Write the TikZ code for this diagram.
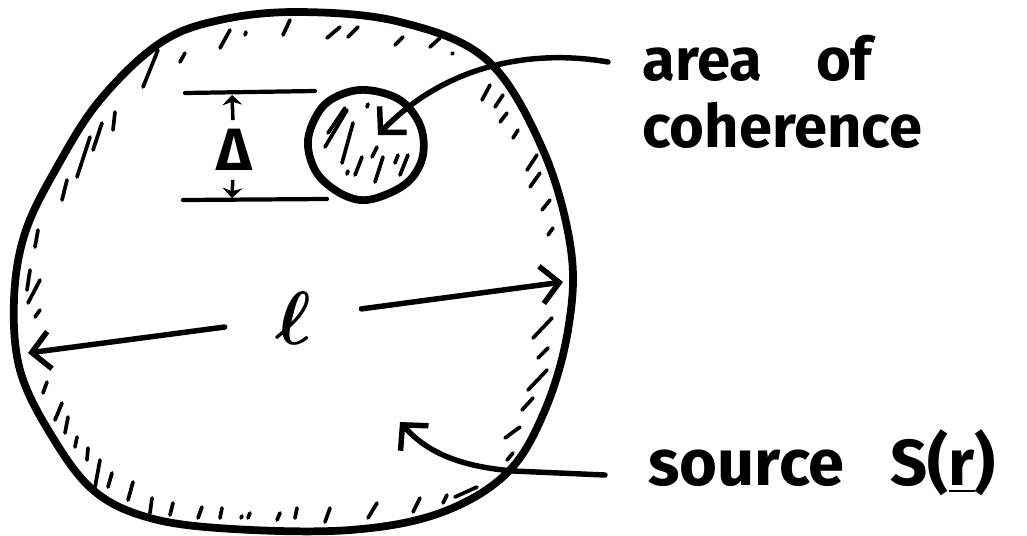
\documentclass[tikz,border=0pt]{standalone}
\usepackage{amsmath, bm}
\usepackage{graphicx}
\usepackage{fontspec}
\setmainfont{Fira Sans}
\usetikzlibrary{arrows.meta}

\begin{document}
\begin{tikzpicture}[x=0.02cm, y=-0.02cm,
    blob/.style={line width=4.4pt, line join=round},
    hatch/.style={line width=2.1pt, line cap=round},
    arr/.style={line width=3.1pt, line cap=round,
        -{Straight Barb[length=3.6mm, width=7.5mm, line width=3.1pt]}},
    smallarr/.style={line width=2pt,
        -{Stealth[length=2mm, width=4mm]}},
    ellnode/.style={minimum width=2.72cm, inner sep=0pt},
    lbl/.style={anchor=base west, inner sep=0pt, font=\bfseries\fontsize{34}{40}\selectfont}
]
    \useasboundingbox (0,0) rectangle (1027,535);

    % source outline
    \draw[blob] plot[smooth cycle, tension=0.6] coordinates {
        (300,12) (400,22) (487,60) (543,150) (571,250) (568,330) (545,410)
        (507,473) (440,513) (350,530) (233,529) (150,518) (93,490) (50,433)
        (20,370) (14,300) (25,233) (57,167) (100,100) (160,43) (220,20)};

    % hatching along the rim
    \foreach \xa/\ya/\xb/\yb in {230/30/220/48, 246/32/245/35, 290/20/283/35,
        185/53/180/62, 158/50/143/87, 115/112/113/130, 102/123/93/150,
        90/137/77/177, 67/180/62/200, 38/230/35/247, 30/270/27/290,
        40/280/28/303, 40/310/35/317, 47/382/43/393, 62/403/55/420,
        68/417/65/433, 77/437/75/447, 88/448/87/460, 100/460/95/487,
        112/473/108/487, 133/482/128/500, 152/498/150/513, 173/503/170/515,
        202/507/198/518, 222/508/220/518, 242/516/241/518, 250/513/248/518,
        280/513/277/520, 297/508/295/518, 330/508/325/522, 377/503/368/518,
        420/498/413/512, 447/495/443/503, 477/487/455/497, 513/453/507/460,
        520/427/505/438, 533/398/522/410, 547/370/528/390, 548/348/538/358,
        552/318/533/338, 327/38/340/27, 348/37/358/27, 395/45/403/37,
        430/47/440/38, 453/53/452/54, 482/100/490/85, 495/107/503/95,
        500/122/507/113, 513/138/518/130, 527/170/537/155, 530/187/540/173,
        542/210/550/200, 548/235/553/228}
        \draw[hatch] (\xa,\ya) -- (\xb,\yb);

    % area of coherence
    \draw[blob] plot[smooth cycle, tension=0.6] coordinates {
        (367,90) (400,100) (420,125) (423,155) (410,180) (385,195) (360,200)
        (335,190) (315,170) (308,140) (320,110) (340,95)};
    \foreach \xa/\ya/\xb/\yb in {345/108/328/133, 347/110/325/147,
        368/104/367/107, 353/123/342/163, 377/147/372/157, 362/157/355/175,
        383/157/375/182, 398/155/395/163, 408/155/400/175, 348/171/347/174}
        \draw[hatch] (\xa,\ya) -- (\xb,\yb);

    % Delta
    \draw[line width=2.4pt, line cap=round] (185,93) -- (315,91);
    \draw[line width=2.4pt, line cap=round] (183,200) -- (327,199);
    \node[font=\bfseries\fontsize{34}{38}\selectfont, inner sep=5pt] (delta) at (234,150) {Δ};
    \coordinate (deltaTop) at (232,95);
    \coordinate (deltaBot) at (232,198);
    \draw[smallarr] (delta) -- (deltaTop);
    \draw[smallarr] (delta) -- (deltaBot);

    % length l
    \node[ellnode] (ell) at (293,318) {\scalebox{4.3}{$\bm{\ell}$}};
    \coordinate (ellLeft) at (28,353);
    \coordinate (ellRight) at (563,282);
    \draw[arr] (ell) -- (ellLeft);
    \draw[arr] (ell) -- (ellRight);

    % labels
    \node[lbl] (areaLbl) at (642,80) {area\hspace{0.9em}of};
    \node[lbl] (cohLbl) at (642,147) {coherence};
    \node[lbl, font=\bfseries\fontsize{37}{42}\selectfont] (srcLbl) at (648,485) {source\hspace{0.7em}S(\underline{r})};

    \coordinate (cohStart) at (608,62);
    \coordinate (cohTip) at (378,135);
    \draw[arr] (cohStart) .. controls (540,50) and (450,60) .. (cohTip);

    \coordinate (srcStart) at (605,475);
    \coordinate (srcTip) at (400,422);
    \draw[arr] (srcStart) -- (513,471) .. controls (455,466) and (425,450) .. (srcTip);
\end{tikzpicture}
\end{document}
